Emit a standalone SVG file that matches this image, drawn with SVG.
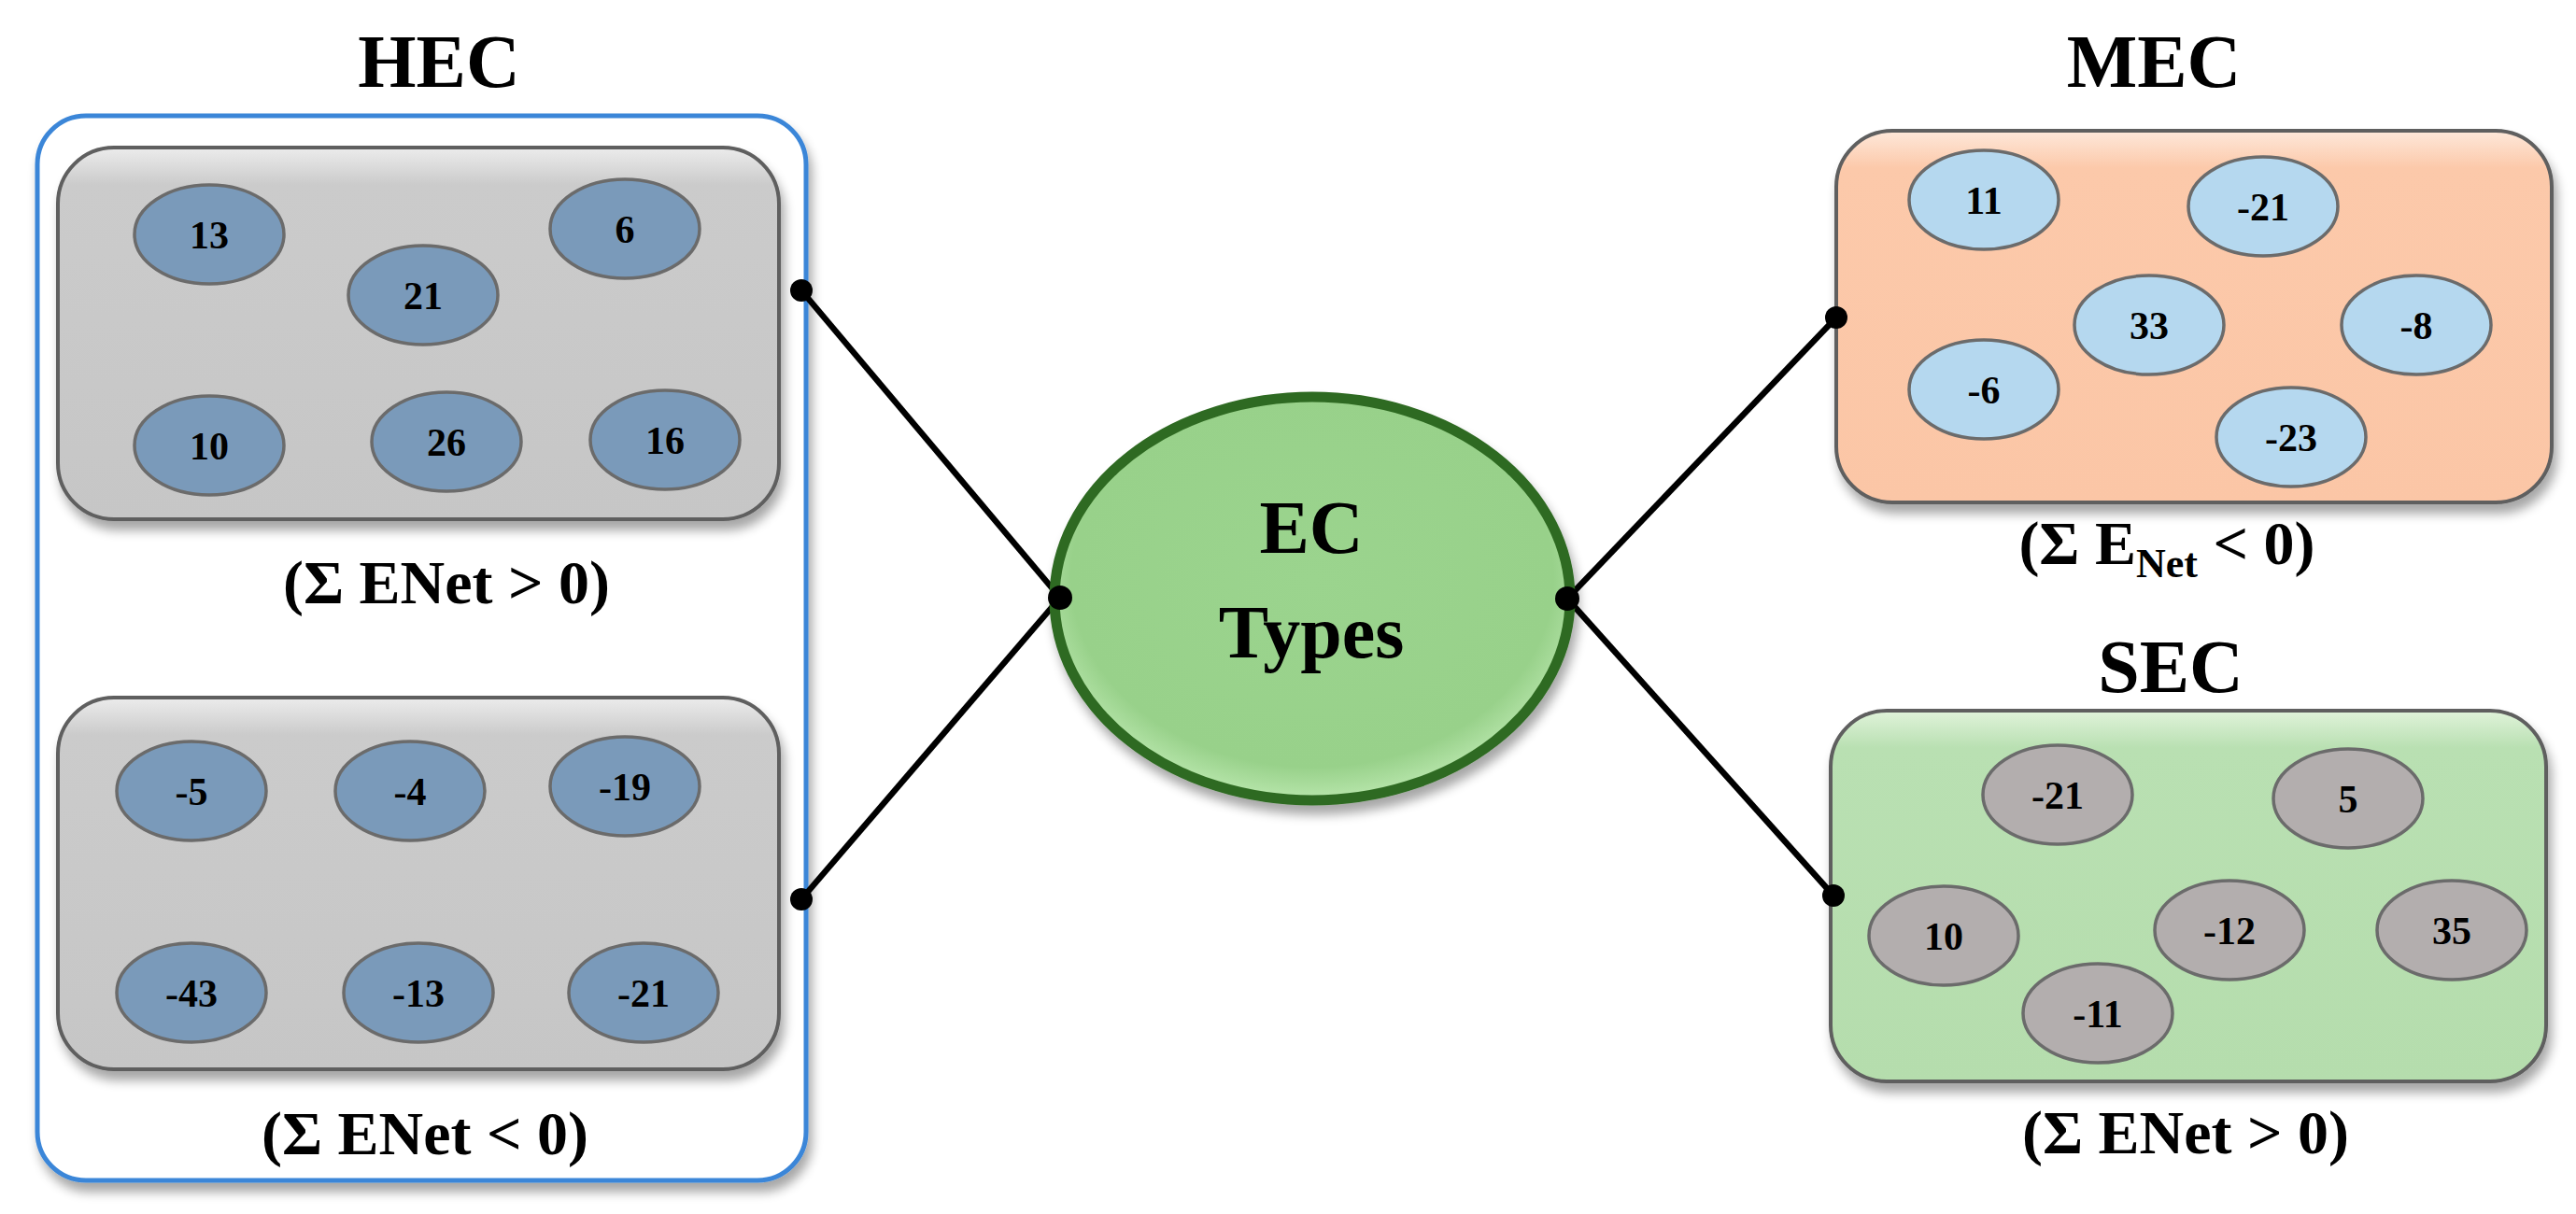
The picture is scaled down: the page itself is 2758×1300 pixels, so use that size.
<svg xmlns="http://www.w3.org/2000/svg" width="2758" height="1300" viewBox="0 0 2758 1300">
<style>
text{font-family:"Liberation Serif","Times New Roman",serif;font-weight:bold;fill:#000;text-anchor:middle}
.title{font-size:80px}
.num{font-size:42px}
.cond{font-size:66px}
.box{stroke:#5f5f5f;stroke-width:4}
.eh{fill:#7a9aba;stroke:#6b6b6b;stroke-width:3.5}
.em{fill:#b5d8ef;stroke:#6b6b6b;stroke-width:3.5}
.es{fill:#b3aeae;stroke:#6b6b6b;stroke-width:3.5}
.con{stroke:#000;stroke-width:6.5;fill:none}
.dot{fill:#000}
</style>
<defs>
<filter id="sh" x="-10%" y="-10%" width="120%" height="125%">
<feGaussianBlur in="SourceAlpha" stdDeviation="6"/>
<feOffset dx="4" dy="10" result="b"/>
<feComponentTransfer><feFuncA type="linear" slope="0.35"/></feComponentTransfer>
<feMerge><feMergeNode/><feMergeNode in="SourceGraphic"/></feMerge>
</filter>
<linearGradient id="gGray" x1="0" y1="0" x2="0" y2="1">
<stop offset="0" stop-color="#ececec"/><stop offset="0.1" stop-color="#cbcbcb"/><stop offset="1" stop-color="#c6c6c6"/>
</linearGradient>
<linearGradient id="gPeach" x1="0" y1="0" x2="0" y2="1">
<stop offset="0" stop-color="#fee8da"/><stop offset="0.1" stop-color="#fcc9aa"/><stop offset="1" stop-color="#fbc6a6"/>
</linearGradient>
<linearGradient id="gGreen" x1="0" y1="0" x2="0" y2="1">
<stop offset="0" stop-color="#e0f3da"/><stop offset="0.1" stop-color="#b9e0b2"/><stop offset="1" stop-color="#b5ddad"/>
</linearGradient>
<radialGradient id="gCenter" cx="0.5" cy="0.45" r="0.55">
<stop offset="0" stop-color="#9bd48e"/><stop offset="0.85" stop-color="#98d18a"/><stop offset="1" stop-color="#b8e6ac"/>
</radialGradient>
</defs>

<g id="HEC">
<text class="title" x="470" y="93">HEC</text>
<rect x="40" y="124" width="823" height="1140" rx="52" fill="#fff" stroke="#3b86d8" stroke-width="5" filter="url(#sh)"/>
</g>

<g id="HEC-positive">
<rect class="box" x="62" y="158" width="772" height="398" rx="60" fill="url(#gGray)" filter="url(#sh)"/>
<ellipse class="eh" cx="224" cy="251" rx="80" ry="53"/><text class="num" x="224" y="266">13</text>
<ellipse class="eh" cx="453" cy="316" rx="80" ry="53"/><text class="num" x="453" y="331">21</text>
<ellipse class="eh" cx="669" cy="245" rx="80" ry="53"/><text class="num" x="669" y="260">6</text>
<ellipse class="eh" cx="224" cy="477" rx="80" ry="53"/><text class="num" x="224" y="492">10</text>
<ellipse class="eh" cx="478" cy="473" rx="80" ry="53"/><text class="num" x="478" y="488">26</text>
<ellipse class="eh" cx="712" cy="471" rx="80" ry="53"/><text class="num" x="712" y="486">16</text>
<text class="cond" x="478" y="646">(Σ ENet &gt; 0)</text>
</g>

<g id="HEC-negative">
<rect class="box" x="62" y="747" width="772" height="398" rx="60" fill="url(#gGray)" filter="url(#sh)"/>
<ellipse class="eh" cx="205" cy="847" rx="80" ry="53"/><text class="num" x="205" y="862">-5</text>
<ellipse class="eh" cx="439" cy="847" rx="80" ry="53"/><text class="num" x="439" y="862">-4</text>
<ellipse class="eh" cx="669" cy="842" rx="80" ry="53"/><text class="num" x="669" y="857">-19</text>
<ellipse class="eh" cx="205" cy="1063" rx="80" ry="53"/><text class="num" x="205" y="1078">-43</text>
<ellipse class="eh" cx="448" cy="1063" rx="80" ry="53"/><text class="num" x="448" y="1078">-13</text>
<ellipse class="eh" cx="689" cy="1063" rx="80" ry="53"/><text class="num" x="689" y="1078">-21</text>
<text class="cond" x="455" y="1236">(Σ ENet &lt; 0)</text>
</g>

<g id="MEC">
<text class="title" x="2306" y="93">MEC</text>
<rect class="box" x="1966" y="140" width="766" height="398" rx="60" fill="url(#gPeach)" filter="url(#sh)"/>
<ellipse class="em" cx="2124" cy="214" rx="80" ry="53"/><text class="num" x="2124" y="229">11</text>
<ellipse class="em" cx="2423" cy="221" rx="80" ry="53"/><text class="num" x="2423" y="236">-21</text>
<ellipse class="em" cx="2301" cy="348" rx="80" ry="53"/><text class="num" x="2301" y="363">33</text>
<ellipse class="em" cx="2587" cy="348" rx="80" ry="53"/><text class="num" x="2587" y="363">-8</text>
<ellipse class="em" cx="2124" cy="417" rx="80" ry="53"/><text class="num" x="2124" y="432">-6</text>
<ellipse class="em" cx="2453" cy="468" rx="80" ry="53"/><text class="num" x="2453" y="483">-23</text>
<text class="cond" x="2320" y="604">(Σ E<tspan font-size="44" dy="14">Net</tspan><tspan dy="-14"> &lt; 0)</tspan></text>
</g>

<g id="SEC">
<text class="title" x="2324" y="741">SEC</text>
<rect class="box" x="1960" y="761" width="766" height="397" rx="60" fill="url(#gGreen)" filter="url(#sh)"/>
<ellipse class="es" cx="2203" cy="851" rx="80" ry="53"/><text class="num" x="2203" y="866">-21</text>
<ellipse class="es" cx="2514" cy="855" rx="80" ry="53"/><text class="num" x="2514" y="870">5</text>
<ellipse class="es" cx="2081" cy="1002" rx="80" ry="53"/><text class="num" x="2081" y="1017">10</text>
<ellipse class="es" cx="2387" cy="996" rx="80" ry="53"/><text class="num" x="2387" y="1011">-12</text>
<ellipse class="es" cx="2625" cy="996" rx="80" ry="53"/><text class="num" x="2625" y="1011">35</text>
<ellipse class="es" cx="2246" cy="1085" rx="80" ry="53"/><text class="num" x="2246" y="1100">-11</text>
<text class="cond" x="2340" y="1235">(Σ ENet &gt; 0)</text>
</g>

<g id="connectors">
<line class="con" x1="858" y1="311" x2="1135" y2="640"/>
<line class="con" x1="858" y1="963" x2="1135" y2="640"/>
<line class="con" x1="1678" y1="641" x2="1966" y2="340"/>
<line class="con" x1="1678" y1="641" x2="1963" y2="959"/>
</g>

<g id="EC-Types">
<ellipse cx="1405" cy="641" rx="276" ry="216" fill="url(#gCenter)" stroke="#2f6a22" stroke-width="11" filter="url(#sh)"/>
<text class="title" x="1404" y="592" font-size="86">EC</text>
<text class="title" x="1404" y="704" font-size="86">Types</text>
</g>

<g id="dots">
<circle class="dot" cx="858" cy="311" r="12"/>
<circle class="dot" cx="858" cy="963" r="12"/>
<circle class="dot" cx="1135" cy="640" r="13"/>
<circle class="dot" cx="1678" cy="641" r="13"/>
<circle class="dot" cx="1966" cy="340" r="12"/>
<circle class="dot" cx="1963" cy="959" r="12"/>
</g>
</svg>
